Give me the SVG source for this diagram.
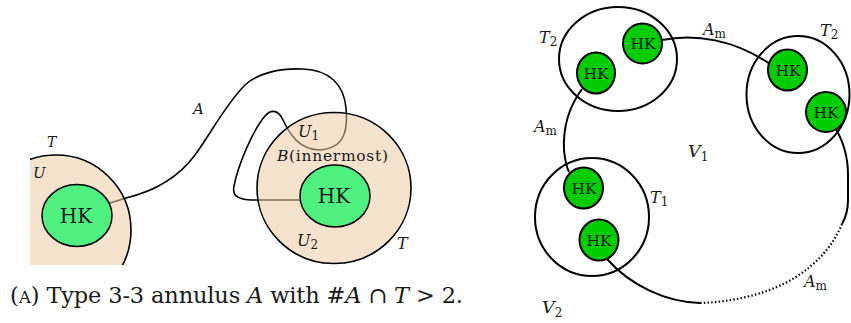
<svg xmlns="http://www.w3.org/2000/svg" width="851" height="323" viewBox="0 0 851 323" font-family="'DejaVu Serif', serif">
<style>
text{font-family:'DejaVu Serif',serif;fill:#1a1a1a}
.it{font-style:italic}
.sub{font-style:normal;font-size:12px}
.lbl{font-size:16px}
.T{fill:rgb(237,204,165);fill-opacity:.54;stroke:#000;stroke-width:1.6}
.hk1{fill:#50F080;stroke:#000;stroke-width:1.5}
.hk2{fill:#00CC00;stroke:#000;stroke-width:2}
.tor{fill:none;stroke:#000;stroke-width:2}
.c1{fill:none;stroke:#000;stroke-width:1.6}
.c2{fill:none;stroke:#000;stroke-width:2}
.dot{fill:none;stroke:#000;stroke-width:2.2;stroke-dasharray:1.5 2.2}
.hkt1{font-size:20px;text-anchor:middle}
.hkt2{font-size:15.5px;text-anchor:middle}
</style>
<defs>
<clipPath id="clipL"><rect x="30" y="0" width="200" height="265"/></clipPath>
</defs>

<!-- connectors (left panel) -->
<g id="connectors">
<path id="annulusA" class="c1" d="M 110 203 L 126 198 C 155 191, 178 178, 195 155 C 210 135, 225 105, 245 85 C 258 73, 280 68, 303 69 C 330 70, 344 85, 346 108 C 348 130, 345 148, 320 150 C 300 150, 290 135, 283 120 C 279 111, 272 108, 265 116 C 253 130, 238 165, 234 186 C 232 196, 238 199, 250 200 L 300 200"/>
</g>

<!-- left panel nodes -->
<g id="torusL" clip-path="url(#clipL)">
<circle class="T" cx="56" cy="230" r="75"/>
</g>
<g id="hkL">
<ellipse class="hk1" cx="77" cy="215.5" rx="35" ry="31"/>
<text class="hkt1" x="76" y="223">HK</text>
</g>
<g id="torusR">
<ellipse class="T" cx="334" cy="188" rx="77" ry="75.5"/>
</g>
<g id="hkR">
<ellipse class="hk1" cx="335" cy="196" rx="35" ry="31"/>
<text class="hkt1" x="334" y="203">HK</text>
</g>

<g id="labelsL">
<text class="it" x="47" y="147" font-size="14">T</text>
<text class="it" x="33" y="178" font-size="15">U</text>
<text class="it" x="193" y="114" font-size="15">A</text>
<text class="it lbl" x="298" y="137">U<tspan class="sub" dy="3">1</tspan></text>
<text x="277" y="161" font-size="15.5" textLength="111" lengthAdjust="spacing"><tspan class="it">B</tspan>(innermost)</text>
<text class="it lbl" x="297" y="246">U<tspan class="sub" dy="3">2</tspan></text>
<text class="it lbl" x="397" y="249">T</text>
</g>

<text x="10" y="303" font-size="22.5" textLength="453" lengthAdjust="spacing">(<tspan font-size="17">A</tspan>) Type 3-3 annulus <tspan class="it">A</tspan> with #<tspan class="it">A</tspan> ∩ <tspan class="it">T</tspan> &gt; 2.</text>

<!-- right panel -->
<g id="tori2">
<ellipse id="T2a" class="tor" cx="618" cy="59" rx="59" ry="52"/>
<ellipse id="T2b" class="tor" cx="798" cy="94.5" rx="51.5" ry="58.5"/>
<ellipse id="T1" class="tor" cx="592" cy="217" rx="57" ry="59"/>
</g>

<g id="connectors2">
<path class="c2" d="M 662 40 C 695 33, 735 40, 770 64"/>
<path class="c2" d="M 582 89 C 568 108, 563 130, 564 150 C 565 160, 566 166, 569 172"/>
<path class="c2" d="M 834 126 C 843 140, 848 155, 848 175 L 848 200 C 848 210, 846 217, 842 224"/>
<path class="dot" d="M 842 224 C 825 265, 780 300, 700 303"/>
<path class="c2" d="M 700 303 C 665 302, 630 285, 607 259"/>
</g>

<g id="hk2a"><ellipse class="hk2" cx="642.5" cy="43.5" rx="19.5" ry="20"/><text class="hkt2" x="643" y="49">HK</text></g>
<g id="hk2b"><ellipse class="hk2" cx="596" cy="73" rx="19" ry="20.5"/><text class="hkt2" x="596" y="79">HK</text></g>
<g id="hk2c"><ellipse class="hk2" cx="787.5" cy="70" rx="19.5" ry="20.5"/><text class="hkt2" x="788" y="75.5">HK</text></g>
<g id="hk2d"><ellipse class="hk2" cx="826" cy="112" rx="20" ry="20"/><text class="hkt2" x="826" y="117.5">HK</text></g>
<g id="hk2e"><ellipse class="hk2" cx="583.5" cy="188" rx="19.5" ry="20.5"/><text class="hkt2" x="584" y="193.5">HK</text></g>
<g id="hk2f"><ellipse class="hk2" cx="599" cy="240" rx="19.5" ry="20.5"/><text class="hkt2" x="599" y="245.5">HK</text></g>

<g id="labelsR">
<text class="it lbl" x="539" y="43">T<tspan class="sub" dy="3">2</tspan></text>
<text class="it lbl" x="703" y="35">A<tspan class="sub" font-style="italic" dy="3">m</tspan></text>
<text class="it lbl" x="820" y="36">T<tspan class="sub" dy="3">2</tspan></text>
<text class="it lbl" x="534" y="132">A<tspan class="sub" font-style="italic" dy="3">m</tspan></text>
<text class="it" x="688" y="157" font-size="17.5">V<tspan class="sub" dy="4">1</tspan></text>
<text class="it lbl" x="650" y="203">T<tspan class="sub" dy="3">1</tspan></text>
<text class="it lbl" x="804" y="287">A<tspan class="sub" font-style="italic" dy="3">m</tspan></text>
<text class="it" x="542" y="313" font-size="17.5">V<tspan class="sub" dy="4">2</tspan></text>
</g>
</svg>
